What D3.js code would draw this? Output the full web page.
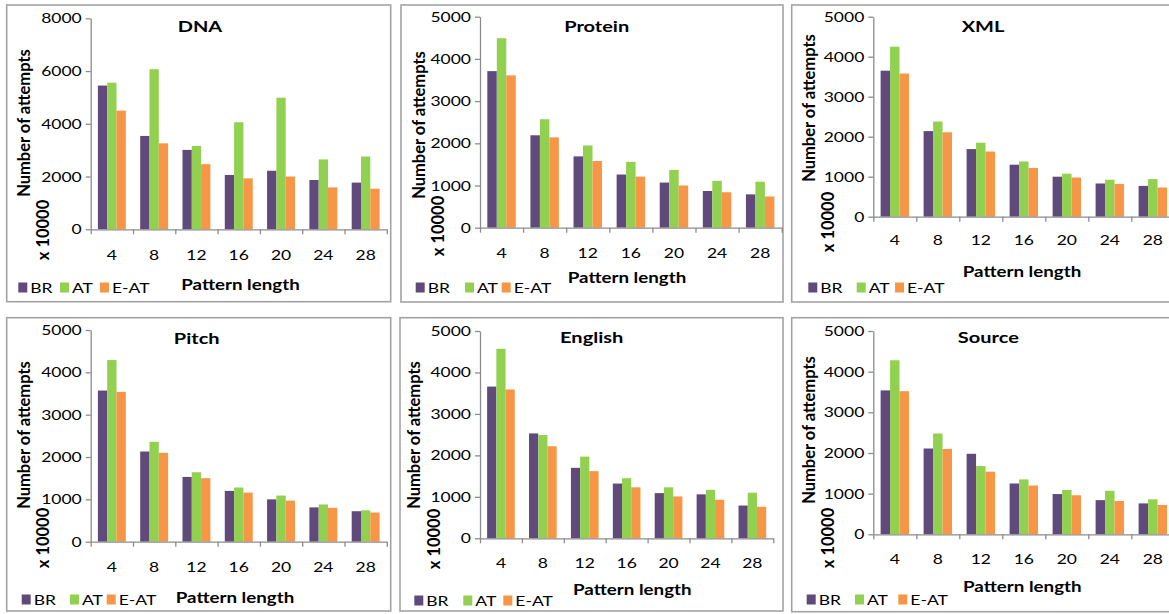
<!DOCTYPE html>
<html>
<head>
<meta charset="utf-8">
<script src="https://cdn.jsdelivr.net/npm/d3@7"></script>
<style>
    body { margin: 0; background: #fff; }
    svg { display: block; }
</style>
</head>
<body>
<svg id="chart" width="1169" height="614"></svg>
<script>
// pattern lengths on the x axis
const categories = [4, 8, 12, 16, 20, 24, 28];
const seriesNames = ["BR", "AT", "E-AT"];
const seriesColors = ["#604A7B", "#92D050", "#F79646"];

const ticksDNA = [0, 2000, 4000, 6000, 8000];
const ticksOther = [0, 1000, 2000, 3000, 4000, 5000];

// values in units of 10000 attempts
const dnaBR = [5450, 3540, 3010, 2060, 2220, 1870, 1770];
const dnaAT = [5560, 6070, 3160, 4060, 4990, 2650, 2760];
const dnaEAT = [4500, 3260, 2470, 1930, 2000, 1590, 1540];

const proteinBR = [3710, 2190, 1690, 1260, 1070, 870, 790];
const proteinAT = [4490, 2570, 1950, 1560, 1370, 1110, 1090];
const proteinEAT = [3610, 2140, 1580, 1210, 1000, 840, 740];

const xmlBR = [3650, 2140, 1690, 1300, 1000, 830, 770];
const xmlAT = [4250, 2380, 1850, 1380, 1075, 925, 940];
const xmlEAT = [3580, 2110, 1630, 1220, 980, 820, 730];

const pitchBR = [3570, 2130, 1530, 1200, 1000, 810, 720];
const pitchAT = [4290, 2360, 1640, 1280, 1090, 880, 740];
const pitchEAT = [3540, 2100, 1500, 1160, 970, 800, 690];

const englishBR = [3660, 2530, 1700, 1320, 1090, 1060, 790];
const englishAT = [4570, 2490, 1970, 1450, 1230, 1170, 1100];
const englishEAT = [3590, 2220, 1620, 1230, 1010, 930, 760];

const sourceBR = [3540, 2110, 1980, 1250, 990, 840, 760];
const sourceAT = [4280, 2480, 1680, 1350, 1090, 1070, 860];
const sourceEAT = [3520, 2100, 1540, 1200, 960, 820, 720];

// panel layout (pixel positions only)
const panels = [
    {title: "DNA", series: [dnaBR, dnaAT, dnaEAT], ticks: ticksDNA,
     frame: [6.7, 5, 390.7, 301.7], ax: 90.7, step: 42.3, yTop: 18.3, y0: 229.3,
     titlePos: [200, 32], tickY: 260, xTitlePos: [240.5, 290], legendX: [18.3, 60, 100], legendY: 293,
     yl1: [30, 123], yl2: [49, 230]},
    {title: "Protein", series: [proteinBR, proteinAT, proteinEAT], ticks: ticksOther,
     frame: [401, 5, 783, 302], ax: 480, step: 43.1, yTop: 16.7, y0: 227.7,
     titlePos: [596.7, 31.7], tickY: 258, xTitlePos: [627, 283], legendX: [415.7, 465, 501.7], legendY: 293,
     yl1: [425, 125], yl2: [444, 226]},
    {title: "XML", series: [xmlBR, xmlAT, xmlEAT], ticks: ticksOther,
     frame: [791.7, 5, 1180, 302], ax: 873.3, step: 43, yTop: 16.7, y0: 216.7,
     titlePos: [983, 31.7], tickY: 245, xTitlePos: [1022, 277], legendX: [808.3, 856.7, 895], legendY: 293,
     yl1: [815, 108], yl2: [834, 222]},
    {title: "Pitch", series: [pitchBR, pitchAT, pitchEAT], ticks: ticksOther,
     frame: [6.7, 317.7, 390.7, 611], ax: 90.7, step: 42.3, yTop: 330, y0: 541.7,
     titlePos: [196.7, 344.3], tickY: 571.7, xTitlePos: [235, 602.7], legendX: [21.7, 70, 106.7], legendY: 605,
     yl1: [30, 435], yl2: [49, 538]},
    {title: "English", series: [englishBR, englishAT, englishEAT], ticks: ticksOther,
     frame: [400, 317.7, 783, 611], ax: 480, step: 41.9, yTop: 331, y0: 538.3,
     titlePos: [591.7, 343.3], tickY: 568.3, xTitlePos: [632.3, 595], legendX: [414.3, 463.3, 503.3], legendY: 606,
     yl1: [420, 435], yl2: [440, 539]},
    {title: "Source", series: [sourceBR, sourceAT, sourceEAT], ticks: ticksOther,
     frame: [791.7, 317.7, 1180, 611.7], ax: 873.3, step: 43, yTop: 331, y0: 534.3,
     titlePos: [988.3, 343.3], tickY: 564.3, xTitlePos: [1022.3, 592.3], legendX: [806.7, 855, 898.3], legendY: 605,
     yl1: [815, 430], yl2: [834, 538]}
];

const FONT = "Lato, 'Open Sans', sans-serif";
const SX = 1.25;          // text in the picture is a bit wider than tall
const AXIS_COLOR = "#8c8c8c";

const svg = d3.select("#chart");

function label(g, x, y, str, size, weight, anchor) {
    return g.append("text")
        .attr("transform", `translate(${x},${y}) scale(${SX},1)`)
        .attr("font-family", FONT)
        .attr("font-size", size)
        .attr("font-weight", weight)
        .attr("text-anchor", anchor)
        .attr("fill", "#000")
        .text(str);
}

function vlabel(g, x, y, str) {
    return g.append("text")
        .attr("transform", `translate(${x},${y}) rotate(-90)`)
        .attr("font-family", FONT)
        .attr("font-size", 16.5)
        .attr("font-weight", "bold")
        .attr("text-anchor", "middle")
        .attr("fill", "#000")
        .text(str);
}

function drawPanel(p) {
    const g = svg.append("g");
    const [fx0, fy0, fx1, fy1] = p.frame;

    g.append("rect")
        .attr("x", fx0).attr("y", fy0)
        .attr("width", fx1 - fx0).attr("height", fy1 - fy0)
        .attr("fill", "#fff")
        .attr("stroke", "#a3a3a3")
        .attr("stroke-width", 1.6);

    const xEnd = p.ax + p.step * categories.length;
    const pad = 0.34;
    const x = d3.scaleBand()
        .domain(categories)
        .range([p.ax, xEnd])
        .paddingInner(pad)
        .paddingOuter(pad / 2);
    const xs = d3.scaleBand()
        .domain(d3.range(seriesNames.length))
        .range([0, x.bandwidth()]);
    const y = d3.scaleLinear()
        .domain([0, d3.max(p.ticks)])
        .range([p.y0, p.yTop]);

    // bars
    p.series.forEach((vals, si) => {
        g.append("g").selectAll("rect")
            .data(vals)
            .enter()
            .append("rect")
            .attr("x", (d, i) => x(categories[i]) + xs(si))
            .attr("y", d => y(d))
            .attr("width", xs.bandwidth())
            .attr("height", d => y(0) - y(d))
            .attr("fill", seriesColors[si]);
    });

    // y axis
    const yAxis = g.append("g")
        .attr("transform", `translate(${p.ax},0)`)
        .call(d3.axisLeft(y).tickValues(p.ticks).tickFormat("").tickSize(5).tickSizeOuter(0));
    yAxis.select(".domain").attr("stroke", AXIS_COLOR).attr("stroke-width", 1.3);
    yAxis.selectAll(".tick line").attr("stroke", AXIS_COLOR).attr("stroke-width", 1.3);
    p.ticks.forEach(t => label(g, p.ax - 9, y(t) + 5, String(t), 14, "normal", "end"));

    // x axis with ticks between the groups
    const xb = d3.scaleLinear().domain([0, categories.length]).range([p.ax, xEnd]);
    const xAxis = g.append("g")
        .attr("transform", `translate(0,${p.y0})`)
        .call(d3.axisBottom(xb).tickValues(d3.range(categories.length + 1)).tickFormat("").tickSize(5).tickSizeOuter(0));
    xAxis.select(".domain").attr("stroke", AXIS_COLOR).attr("stroke-width", 1.3);
    xAxis.selectAll(".tick line").attr("stroke", AXIS_COLOR).attr("stroke-width", 1.3);
    categories.forEach(c => label(g, x(c) + x.bandwidth() / 2, p.tickY, String(c), 14, "normal", "middle"));

    // titles
    label(g, p.titlePos[0], p.titlePos[1], p.title, 16, "bold", "middle");
    label(g, p.xTitlePos[0], p.xTitlePos[1], "Pattern length", 15, "bold", "middle");
    vlabel(g, p.yl1[0], p.yl1[1], "Number of attempts");
    vlabel(g, p.yl2[0], p.yl2[1], "x 10000");

    // legend
    seriesNames.forEach((name, i) => {
        g.append("rect")
            .attr("x", p.legendX[i])
            .attr("y", p.legendY - 10.5)
            .attr("width", 9)
            .attr("height", 10)
            .attr("fill", seriesColors[i]);
        label(g, p.legendX[i] + 12, p.legendY, name, 14, "normal", "start");
    });
}

panels.forEach(drawPanel);
</script>
</body>
</html>
